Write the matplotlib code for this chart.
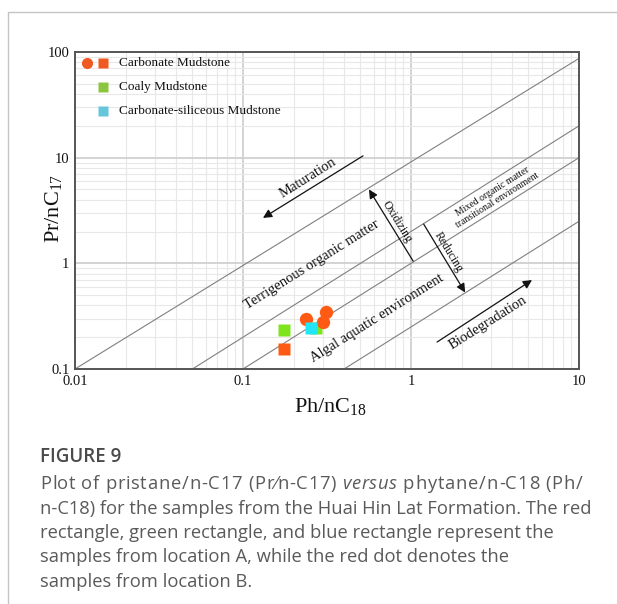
import numpy as np
import matplotlib
matplotlib.use('Agg')
import matplotlib.pyplot as plt
from matplotlib.lines import Line2D
from matplotlib.ticker import LogLocator, NullFormatter

plt.rcParams['font.family'] = ['Liberation Serif', 'DejaVu Serif']
plt.rcParams['mathtext.fontset'] = 'custom'
plt.rcParams['mathtext.rm'] = 'Liberation Serif'
plt.rcParams['mathtext.it'] = 'Liberation Serif:italic'

# ---------------- data ----------------
carb_circle_x = [0.237, 0.298, 0.312]
carb_circle_y = [0.297, 0.281, 0.343]
carb_square_x = [0.176]
carb_square_y = [0.153]
coaly_x = [0.176, 0.272]
coaly_y = [0.234, 0.246]
csil_x = [0.253]
csil_y = [0.246]

# boundary lines: endpoints (x0, x1), (y0, y1)
boundary_x = [[0.01, 10], [0.05, 10], [0.1, 10], [0.4, 10]]
boundary_y = [[0.1, 87], [0.1, 20], [0.1, 10], [0.1, 2.5]]

x_ticks = [0.01, 0.1, 1, 10]
x_tick_labels = ['0.01', '0.1', '1', '10']
y_ticks = [0.1, 1, 10, 100]
y_tick_labels = ['0.1', '1', '10', '100']
legend_labels = ['Carbonate Mudstone', 'Coaly Mudstone', 'Carbonate-siliceous Mudstone']

# arrows (tail, head) in data units
maturation_arrow = [(0.518, 10.4), (0.1315, 2.69)]
oxidizing_arrow = [(1.03, 1.05), (0.562, 5.0)]
reducing_arrow = [(1.19, 2.35), (2.10, 0.53)]
biodeg_arrow = [(1.43, 0.18), (5.25, 0.695)]

RED = '#FF5A14'
GREEN = '#7FE41E'
CYAN = '#22E6F5'
LEG_RED = '#F05A22'
LEG_GREEN = '#8CC63F'
LEG_CYAN = '#66C6DC'

W, H = 617, 604
fig = plt.figure(figsize=(W / 100, H / 100), dpi=100)
L, R, T, B = 75, 579, 52, 369
ax = fig.add_axes([L / W, 1 - B / H, (R - L) / W, (B - T) / H])
ax.set_xscale('log')
ax.set_yscale('log')
ax.set_xlim(0.01, 10)
ax.set_ylim(0.1, 100)

ax.set_xticks(x_ticks, x_tick_labels)
ax.set_yticks(y_ticks, y_tick_labels)
ax.xaxis.set_minor_locator(LogLocator(base=10, subs=np.arange(2, 10)))
ax.yaxis.set_minor_locator(LogLocator(base=10, subs=np.arange(2, 10)))
ax.xaxis.set_minor_formatter(NullFormatter())
ax.yaxis.set_minor_formatter(NullFormatter())
ax.tick_params(which='both', length=0)
ax.tick_params(axis='x', pad=4, labelsize=10.5, colors='#111')
ax.tick_params(axis='y', pad=4, labelsize=10.5, colors='#111')
ax.grid(which='major', color='#d0d0d0', lw=1.3)
ax.grid(which='minor', color='#e8e8e8', lw=0.8)
ax.set_axisbelow(True)
for s in ax.spines.values():
    s.set_color('#555555')
    s.set_linewidth(1.4)

# boundary lines
for bx, by in zip(boundary_x, boundary_y):
    ax.plot(bx, by, color='#808080', lw=0.8, zorder=2)

# data points
ax.plot(coaly_x, coaly_y, 's', ms=8.2, color=GREEN, mec='none', zorder=4)
ax.plot(carb_square_x, carb_square_y, 's', ms=8.2, color=RED, mec='none', zorder=4)
ax.plot(carb_circle_x, carb_circle_y, 'o', ms=9.6, color=RED, mec='none', zorder=5)
ax.plot(csil_x, csil_y, 's', ms=8.2, color=CYAN, mec='none', zorder=6)

# angle of slope-1 lines in display coordinates
p1 = ax.transData.transform((0.1, 0.1))
p2 = ax.transData.transform((1, 1))
ang = np.degrees(np.arctan2(p2[1] - p1[1], p2[0] - p1[0]))

def draw_arrow(arr):
    (x0, y0), (x1, y1) = arr
    ax.annotate('', xy=(x1, y1), xytext=(x0, y0),
                arrowprops=dict(arrowstyle='-|>', color='#111', lw=0.9,
                                mutation_scale=13, shrinkA=0, shrinkB=0),
                zorder=6)

def arrow_angle(arr):
    (x0, y0), (x1, y1) = arr
    a = ax.transData.transform((x0, y0))
    b = ax.transData.transform((x1, y1))
    d = b - a
    if d[0] < 0:
        d = -d
    return np.degrees(np.arctan2(d[1], d[0]))

for arr in (maturation_arrow, oxidizing_arrow, reducing_arrow, biodeg_arrow):
    draw_arrow(arr)

kw = dict(ha='center', va='center', rotation_mode='anchor', color='#111', zorder=7)
ax.text(0.244, 6.4, 'Maturation', rotation=ang, fontsize=10.5, **kw)
ax.text(0.258, 0.96, 'Terrigenous organic matter', rotation=ang, fontsize=10.5, **kw)
ax.text(0.628, 0.304, 'Algal aquatic environment', rotation=ang, fontsize=10.5, **kw)
ax.text(2.87, 0.272, 'Biodegradation', rotation=ang, fontsize=10.5, **kw)
ax.text(0.826, 2.46, 'Oxidizing', rotation=arrow_angle(oxidizing_arrow), fontsize=8.5, **kw)
ax.text(1.66, 1.28, 'Reducing', rotation=arrow_angle(reducing_arrow), fontsize=8.5, **kw)
ax.text(3.18, 4.35, 'Mixed organic matter\ntransitional environment', rotation=ang,
        fontsize=7, linespacing=1.05, **kw)

# axis labels
ax.text(-0.043, 0.508, r'Pr/nC$_{17}$', transform=ax.transAxes, rotation=90,
        ha='center', va='center', fontsize=16, color='#111')
ax.text(0.506, -0.117, r'Ph/nC$_{18}$', transform=ax.transAxes,
        ha='center', va='center', fontsize=16, color='#111')

# legend (manual)
leg_y = [0.965, 0.889, 0.813]
leg_colors = [LEG_RED, LEG_GREEN, LEG_CYAN]
ax.plot([0.0238], [leg_y[0]], 'o', ms=8.0, color=LEG_RED, mec='none',
        transform=ax.transAxes, clip_on=False, zorder=8)
for yy, c, lab in zip(leg_y, leg_colors, legend_labels):
    ax.plot([0.0556], [yy], 's', ms=7.2, color=c, mec='none',
            transform=ax.transAxes, clip_on=False, zorder=8)
    ax.text(0.0873, yy, lab, transform=ax.transAxes, ha='left', va='center',
            fontsize=9.5, color='#111', zorder=8)

# card border
fig.add_artist(Line2D([8 / W, 8 / W, 1.0], [0.0, 1 - 12 / H, 1 - 12 / H],
                      transform=fig.transFigure, color='#c4c4c4', lw=1.0))

# caption
cap_font = ['Open Sans', 'DejaVu Sans']
cap_col = '#5a5a5a'
cap_size = 13.2
fig.text(40 / W, 1 - 462 / H, 'FIGURE 9', fontfamily=cap_font, fontweight='semibold',
         fontsize=13.5, color='#4a4a4a', va='baseline')

renderer = fig.canvas.get_renderer()

def text_width(s, style='normal'):
    if not s:
        return 0.0
    t = fig.text(0, 0, s, fontfamily=cap_font, fontstyle=style, fontsize=cap_size)
    w = t.get_window_extent(renderer).width
    t.remove()
    return w

lines = ['n-C18) for the samples from the Huai Hin Lat Formation. The red',
         'rectangle, green rectangle, and blue rectangle represent the',
         'samples from location A, while the red dot denotes the',
         'samples from location B.']
line2_w = text_width(lines[0])

# first caption line, with italic "versus", spread slightly to its width in the source
parts = [('Plot of pristane/n-C17 (Pr\u2044n-C17) ', 'normal'),
         ('versus', 'italic'),
         (' phytane/n-C18 (Ph/', 'normal')]
chars = []
cur = 0.0
for txt, style in parts:
    for i, ch in enumerate(txt):
        chars.append((ch, style, cur + text_width(txt[:i], style)))
    cur += text_width(txt, style)
target = 0.985 * line2_w
scale = target / cur
for ch, style, nx in chars:
    if ch == ' ':
        continue
    fig.text((40 + nx * scale) / W, 1 - 489 / H, ch, fontfamily=cap_font,
             fontstyle=style, fontsize=cap_size, color=cap_col, va='baseline')

for i, ln in enumerate(lines):
    fig.text(40 / W, 1 - (513.5 + 24.4 * i) / H, ln, fontfamily=cap_font,
             fontsize=cap_size, color=cap_col, va='baseline')

fig.savefig('out.png', dpi=100)
